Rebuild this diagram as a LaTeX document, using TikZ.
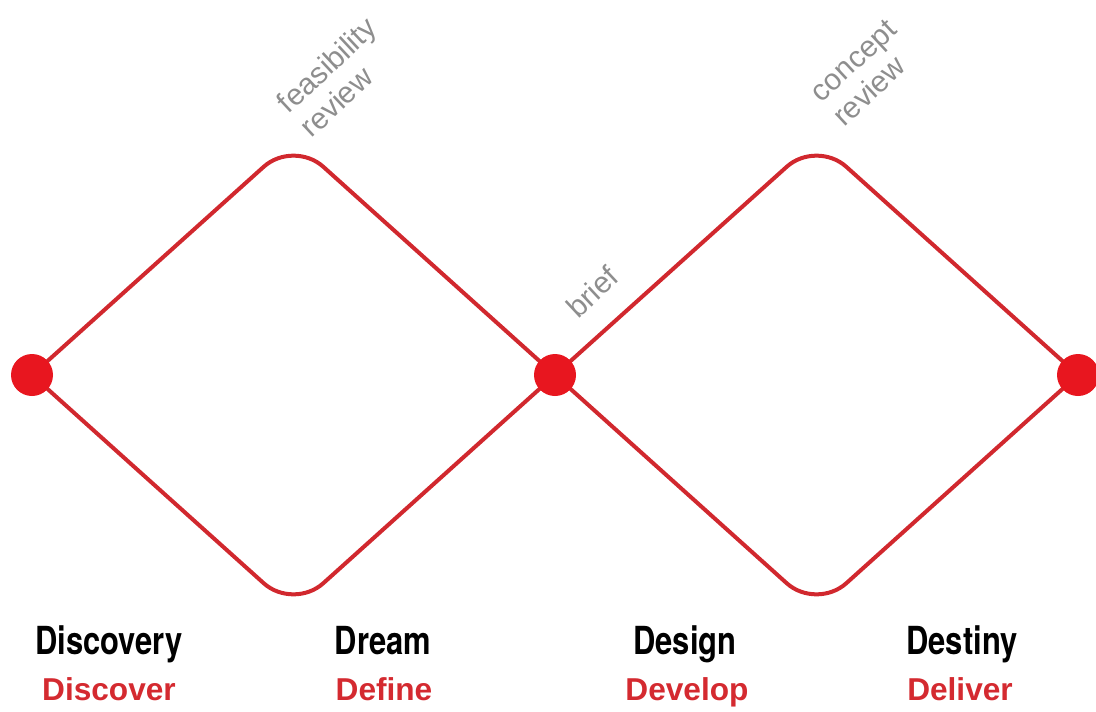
\documentclass[tikz,border=0pt]{standalone}
\usepackage{fontspec}
\setmainfont{Liberation Sans}
\newfontfamily\headfont[FakeStretch=0.8]{TeX Gyre Heros}
\definecolor{lineRed}{HTML}{D1282E}
\definecolor{dotRed}{HTML}{E8161F}
\definecolor{textRed}{HTML}{D42A30}
\definecolor{noteGray}{HTML}{8E8E8E}
\tikzset{
	edge/.style={line width=0.8mm, color=lineRed, rounded corners=0.8cm},
	dot/.style={circle, fill=dotRed, minimum size=0.84cm, inner sep=0pt},
	note/.style={color=noteGray, font=\fontsize{17}{19}\selectfont, rotate=43, align=left, inner sep=0pt},
	phase/.style={anchor=base, font=\headfont\bfseries\fontsize{22}{24}\selectfont},
	verb/.style={anchor=base, color=textRed, font=\bfseries\fontsize{18}{20}\selectfont}
}

\begin{document}
\begin{tikzpicture}
		%%%%% START %%%%%
		\useasboundingbox (0, 0) rectangle (21.92, 14.22);
		
		\coordinate (left) at (0.64, 6.72);
		\coordinate (mid) at (11.1, 6.72);
		\coordinate (right) at (21.56, 6.72);
		\coordinate (top1) at (5.87, 11.42);
		\coordinate (bot1) at (5.87, 2.02);
		\coordinate (top2) at (16.33, 11.42);
		\coordinate (bot2) at (16.33, 2.02);
		
		\draw[edge] (left) -- (top1) -- (mid);
		\draw[edge] (left) -- (bot1) -- (mid);
		\draw[edge] (mid) -- (top2) -- (right);
		\draw[edge] (mid) -- (bot2) -- (right);
		
		\node[dot] (dotLeft) at (left) {};
		\node[dot] (dotMid) at (mid) {};
		\node[dot] (dotRight) at (right) {};
		
		\node[note] (feasibility) at (6.76, 12.68) {feasibility\\review};
		\node[note] (brief) at (11.84, 8.38) {brief};
		\node[note] (concept) at (17.3, 12.76) {concept\\review};
		
		\node[phase] (discovery) at (2.18, 1.14) {Discovery};
		\node[phase] (dream) at (7.66, 1.14) {Dream};
		\node[phase] (design) at (13.7, 1.14) {Design};
		\node[phase] (destiny) at (19.24, 1.14) {Destiny};
		
		\node[verb] (discover) at (2.18, 0.21) {Discover};
		\node[verb] (define) at (7.68, 0.21) {Define};
		\node[verb] (develop) at (13.74, 0.21) {Develop};
		\node[verb] (deliver) at (19.2, 0.21) {Deliver};
		
		%%%%% END %%%%%
\end{tikzpicture}
\end{document}
